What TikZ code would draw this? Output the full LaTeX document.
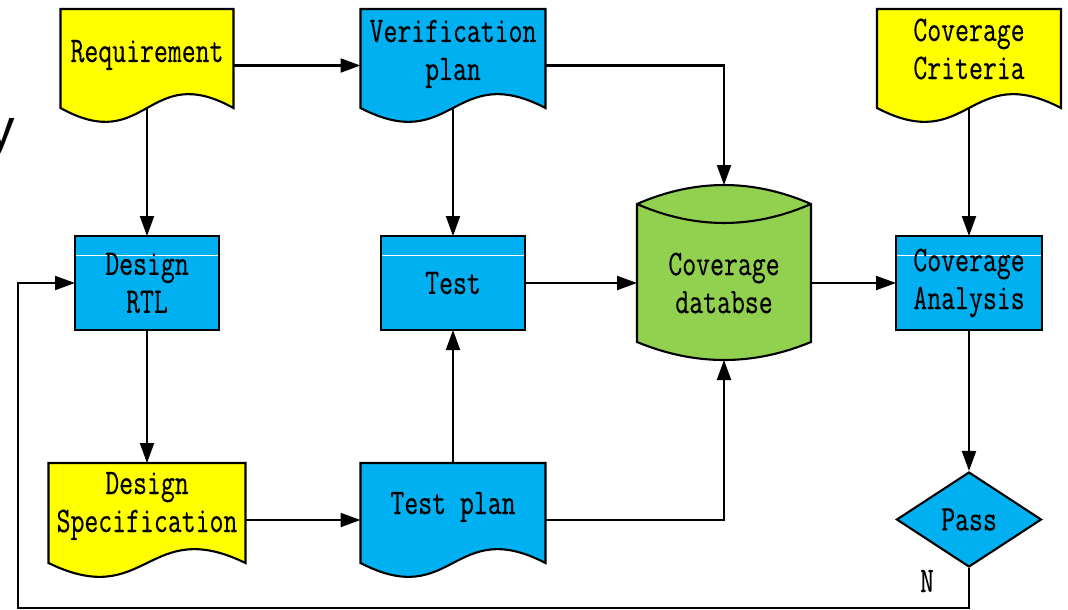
\documentclass[tikz,border=0pt]{standalone}
\usepackage{fontspec}
\newfontfamily\boxfont[FakeStretch=0.75,FakeBold=0.3]{Latin Modern Mono}
\newfontfamily\slidefont{Liberation Sans}
\usetikzlibrary{arrows.meta,shapes.geometric,calc}
\definecolor{docyellow}{HTML}{FFFF00}
\definecolor{procblue}{HTML}{00B0F0}
\definecolor{dbgreen}{HTML}{92D050}
\pgfdeclarelayer{wires}
\pgfdeclarelayer{shapesbg}
\pgfsetlayers{wires,shapesbg,main}

% document symbol with a wavy bottom edge, drawn behind the text
\newcommand\drawdoc[2]{%
  \begin{pgfonlayer}{shapesbg}
    \path[outline,fill=#2] (#1.north west) -- (#1.north east)
      -- ([yshift=14pt]#1.south east)
      .. controls ([yshift=62pt]#1.south) and ([yshift=-34pt]#1.south) ..
      ([yshift=14pt]#1.south west) -- cycle;
  \end{pgfonlayer}}

\begin{document}
\begin{tikzpicture}[x=1pt,y=-1pt,
  outline/.style={draw=black,line width=2.1pt,line join=miter},
  txt/.style={font=\boxfont\fontsize{36}{38}\selectfont,align=center,inner sep=0pt},
  docframe/.style={rectangle,inner sep=0pt,outer sep=0pt},
  procbox/.style={rectangle,outline,fill=procblue,minimum height=94pt,
    inner sep=0pt,outer sep=0pt,txt,
    path picture={\draw[white,line width=1pt]
      ([yshift=-19pt]path picture bounding box.north west) --
      ([yshift=-19pt]path picture bounding box.north east);}},
  arr/.style={line width=2.1pt,-{Triangle[length=20pt,width=14pt]}}]

\useasboundingbox (0,0) rectangle (1068,610);
\clip (0,0) rectangle (1068,610);

% fragment of slide title text at the left edge
\node[font=\slidefont\fontsize{55}{55}\selectfont,anchor=base west,inner sep=0pt]
  (ycut) at (-12.5,147) {y};

% document frames
\node[docframe,minimum width=173pt,minimum height=113pt] (req) at (147,65.5) {};
\node[docframe,minimum width=185pt,minimum height=113pt] (vp)  at (453,65.5) {};
\node[docframe,minimum width=184pt,minimum height=113pt] (cc)  at (969,65.5) {};
\node[docframe,minimum width=197pt,minimum height=114pt] (ds)  at (147,520) {};
\node[docframe,minimum width=185pt,minimum height=114pt] (tp)  at (453,520) {};
\drawdoc{req}{docyellow}
\drawdoc{vp}{procblue}
\drawdoc{cc}{docyellow}
\drawdoc{ds}{docyellow}
\drawdoc{tp}{procblue}

% document texts (base anchor sits on the last line)
\node[txt,anchor=base] (reqt) at (147,62) {Requirement};
\node[txt,anchor=base] (vpt)  at (453,80) {Verification\\plan};
\node[txt,anchor=base] (cct)  at (969,79) {Coverage\\Criteria};
\node[txt,anchor=base] (dst)  at (147,532) {Design\\Specification};
\node[txt,anchor=base] (tpt)  at (453,514) {Test plan};

% process boxes
\node[procbox,minimum width=144pt] (rtl) at (147,283) {Design\\RTL};
\node[procbox,minimum width=144pt] (tst) at (453,283) {Test};
\node[procbox,minimum width=146pt] (ca)  at (969,283) {Coverage\\Analysis};

% decision
\node[diamond,aspect=1.5,outline,fill=procblue,minimum width=145pt,minimum height=95pt,
  inner sep=0pt,txt] (pass) at (969,519.5) {Pass};
\node[txt,anchor=base] (nlab) at (927,592) {N};

% coverage database cylinder
\node[docframe,minimum width=174pt,minimum height=175pt] (db) at (724,272.5) {};
\begin{pgfonlayer}{shapesbg}
  \path[outline,fill=dbgreen] ([yshift=-19pt]db.north west)
    -- ([yshift=18pt]db.south west)
    .. controls ([xshift=-29pt,yshift=-6pt]db.south) and ([xshift=29pt,yshift=-6pt]db.south) ..
    ([yshift=18pt]db.south east)
    -- ([yshift=-19pt]db.north east)
    .. controls ([xshift=29pt,yshift=6.3pt]db.north) and ([xshift=-29pt,yshift=6.3pt]db.north) ..
    cycle;
  \draw[outline] ([yshift=-19pt]db.north west)
    .. controls ([xshift=-29pt,yshift=-44.3pt]db.north) and ([xshift=29pt,yshift=-44.3pt]db.north) ..
    ([yshift=-19pt]db.north east);
\end{pgfonlayer}
\node[txt] (dbt) at (724,283) {Coverage\\databse};

% connectors
\coordinate (loopcorner) at (18,608);
\begin{pgfonlayer}{wires}
  \draw[arr] (req.east) -- (vp.west);
  \draw[arr] (req.center) -- (rtl.north);
  \draw[arr] (vp.east) -| (db.north);
  \draw[arr] (vp.center) -- (tst.north);
  \draw[arr] (cc.center) -- (ca.north);
  \draw[arr] (tst.east) -- (tst.east -| db.west);
  \draw[arr] (ca.west -| db.east) -- (ca.west);
  \draw[arr] (rtl.south) -- (ds.north);
  \draw[arr] (ds.east) -- (tp.west);
  \draw[arr] (tp.north) -- (tst.south);
  \draw[arr] (tp.east) -| (db.south);
  \draw[arr] (ca.south) -- (pass.north);
  \draw[arr] (pass.south) |- (loopcorner) |- (rtl.west);
\end{pgfonlayer}
\end{tikzpicture}
\end{document}
